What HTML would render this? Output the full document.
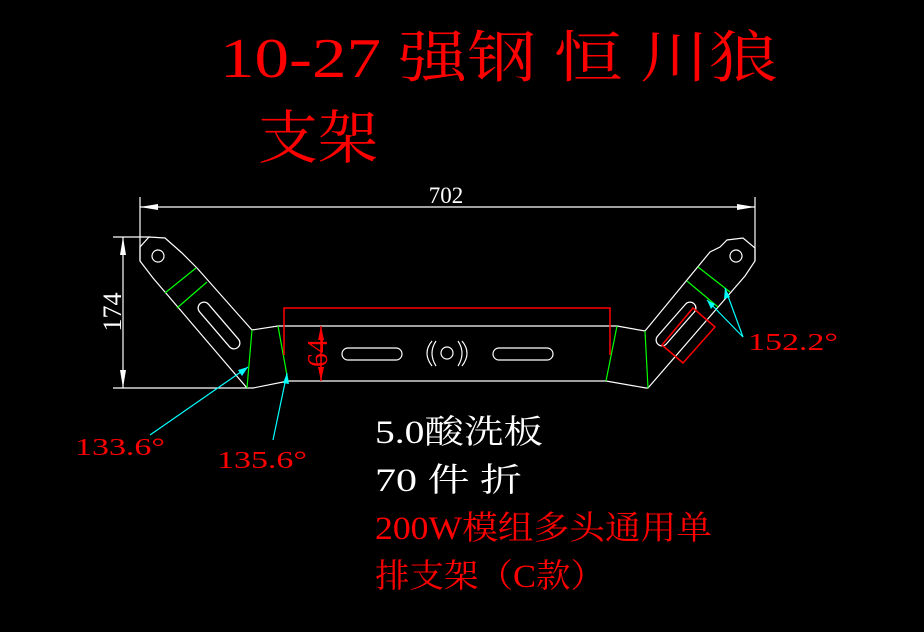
<!DOCTYPE html>
<html><head><meta charset="utf-8"><style>
html,body{margin:0;padding:0;background:#000;}
svg{display:block;}
text{font-family:"Liberation Serif","Noto Serif CJK SC",serif;}
</style></head><body>
<svg width="924" height="632" viewBox="0 0 924 632" xmlns="http://www.w3.org/2000/svg">
<rect width="924" height="632" fill="#000"/>
<text x="220" y="77" font-size="56" fill="#ff0000" textLength="558" lengthAdjust="spacingAndGlyphs">10-27 强钢 恒 川狼</text>
<text x="258" y="158" font-size="58" fill="#ff0000" textLength="120" lengthAdjust="spacingAndGlyphs">支架</text>

<g stroke="#fff" stroke-width="1.2" fill="none">
<line x1="140" y1="207" x2="755" y2="207"/>
<line x1="140" y1="197" x2="140" y2="261"/>
<line x1="755" y1="197" x2="755" y2="261"/>
<line x1="123" y1="237" x2="123" y2="388"/>
<line x1="113" y1="237" x2="150" y2="237"/>
<line x1="113" y1="388" x2="247" y2="388"/>
<path d="M140,261 L140,247 L149,237 L165,238 L182,253 L197,268 L252,330 L278,326 L617,326 L645,331 L710,252 L720,247 L727,240 L743,238 L755,248 L755,261 L745,276 L648,388 L646,388 L606,381 L288,381 L253,388 L247,388 L153,278 Z"/>
<circle cx="158" cy="256" r="6"/>
<circle cx="736" cy="256" r="6"/>
<line x1="204" y1="308" x2="234" y2="343" stroke-width="13" stroke-linecap="round"/>
<line x1="662" y1="340" x2="690" y2="308" stroke-width="13" stroke-linecap="round"/>
<rect x="342" y="348" width="60" height="12" rx="6"/>
<rect x="493" y="348" width="60" height="12" rx="6"/>
<circle cx="447" cy="353" r="6"/>
<path d="M432,341 Q422,353 432,366"/>
<path d="M436,341 Q428,353 436,366"/>
<path d="M458,341 Q466,353 458,366"/>
<path d="M462,341 Q472,353 462,366"/>
</g>
<line x1="204" y1="308" x2="234" y2="343" stroke="#000" stroke-width="10.5" stroke-linecap="round"/>
<line x1="662" y1="340" x2="690" y2="308" stroke="#000" stroke-width="10.5" stroke-linecap="round"/>
<polygon points="140,207 158,204 158,210" fill="#fff"/>
<polygon points="755,207 737,204 737,210" fill="#fff"/>
<polygon points="123,237 120,255 126,255" fill="#fff"/>
<polygon points="123,388 120,370 126,370" fill="#fff"/>
<text x="446" y="203" font-size="23" fill="#fff" text-anchor="middle">702</text>
<text transform="translate(121,312) rotate(-90)" font-size="26" fill="#fff" text-anchor="middle">174</text>

<g stroke="#00ff00" stroke-width="1.2">
<line x1="252" y1="330" x2="247" y2="388"/>
<line x1="278" y1="326" x2="288" y2="381"/>
<line x1="617" y1="326" x2="606" y2="381"/>
<line x1="645" y1="331" x2="648" y2="388"/>
<line x1="165" y1="293" x2="196" y2="268"/>
<line x1="177" y1="308" x2="207" y2="282"/>
<line x1="698" y1="267" x2="730" y2="292"/>
<line x1="687" y1="281" x2="718" y2="307"/>
</g>

<g stroke="#ff0000" stroke-width="1.5" fill="none">
<polyline points="284,355 284,308 610,308 610,355"/>
<line x1="321" y1="326" x2="321" y2="381"/>
<polygon points="693,308 715,327 683,363 662,345"/>
</g>
<polygon points="321,326 318,340 324,340" fill="#ff0000"/>
<polygon points="321,381 318,367 324,367" fill="#ff0000"/>
<text transform="translate(327,353) rotate(-90)" font-size="28" fill="#ff0000" text-anchor="middle">64</text>

<g stroke="#00ffff" stroke-width="1.2">
<line x1="150" y1="435" x2="248" y2="367"/>
<line x1="273" y1="440" x2="287" y2="373"/>
<line x1="743" y1="337" x2="725" y2="288"/>
<line x1="743" y1="337" x2="707" y2="300"/>
</g>
<polygon points="248,367 238,370 242,376" fill="#00ffff"/>
<polygon points="287,373 283,383 289,384" fill="#00ffff"/>
<polygon points="725,288 724,299 730,297" fill="#00ffff"/>
<polygon points="707,300 711,309 715,304" fill="#00ffff"/>

<text x="75" y="455" font-size="24" fill="#ff0000" textLength="90" lengthAdjust="spacingAndGlyphs">133.6°</text>
<text x="217" y="468" font-size="24" fill="#ff0000" textLength="90" lengthAdjust="spacingAndGlyphs">135.6°</text>
<text x="748" y="350" font-size="24" fill="#ff0000" textLength="90" lengthAdjust="spacingAndGlyphs">152.2°</text>

<text x="375" y="443" font-size="33" fill="#fff" textLength="168" lengthAdjust="spacingAndGlyphs">5.0酸洗板</text>
<text x="375" y="491" font-size="33" fill="#fff" textLength="147" lengthAdjust="spacingAndGlyphs">70 件 折</text>
<text x="375" y="539" font-size="33" fill="#ff0000" textLength="337" lengthAdjust="spacingAndGlyphs">200W模组多头通用单</text>
<text x="375" y="587" font-size="33" fill="#ff0000" textLength="230" lengthAdjust="spacingAndGlyphs">排支架（C款）</text>
</svg>
</body></html>
